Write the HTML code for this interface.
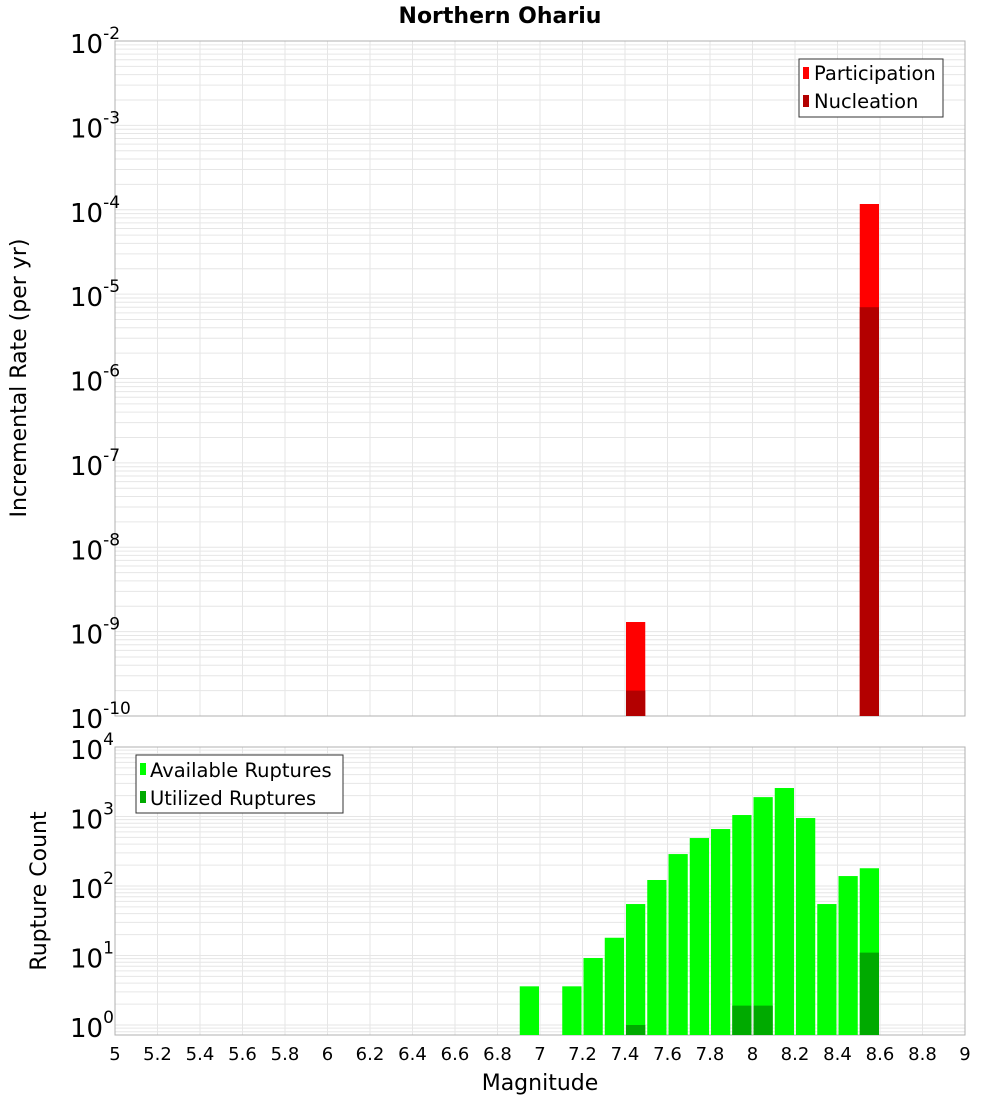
<!DOCTYPE html>
<html><head><meta charset="utf-8"><style>
body{margin:0;background:#fff;font-family:"Liberation Sans","DejaVu Sans",sans-serif}
svg text{font-family:"DejaVu Sans","Liberation Sans",sans-serif}
</style></head><body>
<svg id="c" width="1000" height="1100" xmlns="http://www.w3.org/2000/svg">
<text x="500" y="23" text-anchor="middle" font-size="22" font-weight="bold">Northern Ohariu</text>
<text transform="translate(26,378) rotate(-90)" text-anchor="middle" font-size="22">Incremental Rate (per yr)</text>
<text transform="translate(46,891) rotate(-90)" text-anchor="middle" font-size="22">Rupture Count</text>
<text x="540" y="1090" text-anchor="middle" font-size="22">Magnitude</text>
<g id="gtop"></g><g id="gbot"></g><g id="gxt"></g>
<g>
<rect x="799" y="59" width="144" height="58" fill="#fff" stroke="#333"/>
<rect x="803" y="67" width="6" height="12" fill="#ff0000"/><text x="814" y="80" font-size="19.5">Participation</text>
<rect x="803" y="95" width="6" height="12" fill="#b30000"/><text x="814" y="108" font-size="19.5">Nucleation</text>
</g>
<g>
<rect x="136" y="755" width="207" height="58" fill="#fff" stroke="#333"/>
<rect x="140" y="763" width="6" height="12" fill="#00ff00"/><text x="150" y="777" font-size="19.5">Available Ruptures</text>
<rect x="140" y="791" width="6" height="12" fill="#00aa00"/><text x="150" y="805" font-size="19.5">Utilized Ruptures</text>
</g>
</svg>
<script>
const mags=[6.95,7.05,7.15,7.25,7.35,7.45,7.55,7.65,7.75,7.85,7.95,8.05,8.15,8.25,8.35,8.45,8.55];
const available=[3.6,0,3.6,9.2,18,55,122,288,490,660,1050,1900,2570,950,55,139,180];
const utilized=[0,0,0,0,0,1,0,0,0,0,1.9,1.9,0,0,0,0,11];
const rateMags=[7.45,8.55];
const participation=[1.3e-9,1.17e-4];
const nucleation=[2e-10,7e-6];
const xTicks=[5,5.2,5.4,5.6,5.8,6,6.2,6.4,6.6,6.8,7,7.2,7.4,7.6,7.8,8,8.2,8.4,8.6,8.8,9];
const topExps=[-2,-3,-4,-5,-6,-7,-8,-9,-10];
const botExps=[4,3,2,1,0];
const NS='http://www.w3.org/2000/svg';
const PL=115,PR=965;
const X=m=>PL+(m-5)/4*(PR-PL);
const T0=41,T1=716;const YT=v=>T0+(-2-Math.log10(v))/8*(T1-T0);
const B0=747,B1=1035,BMIN=-0.144;const YB=v=>B0+(4-Math.log10(v))/(4-BMIN)*(B1-B0);
function mk(p,t,a){const e=document.createElementNS(NS,t);for(const k in a)e.setAttribute(k,a[k]);p.appendChild(e);return e;}
function grid(g,y0,y1,yf,lo,hi){
 for(let d=Math.floor(lo);d<hi;d++)for(let k=1;k<10;k++){const v=k*Math.pow(10,d);const y=yf(v);if(y<y0-0.5||y>y1+0.5)continue;
  const l=mk(g,'line',{x1:PL,x2:PR,y1:y,y2:y,stroke:'#e6e6e6','stroke-width':1});
  
  }
 xTicks.forEach(m=>{const l=mk(g,'line',{x1:X(m),x2:X(m),y1:y0,y2:y1,stroke:'#e6e6e6'});
  
  });
 const f=mk(g,'rect',{x:PL,y:y0,width:PR-PL,height:y1-y0,fill:'none',stroke:'#b0b0b0'});
 
 
}
const gTop=document.getElementById('gtop'),gBot=document.getElementById('gbot'),gX=document.getElementById('gxt');
grid(gTop,T0,T1,YT,-10,-2);
grid(gBot,B0,B1,YB,-1,4);
const hw=0.1/2*(PR-PL)/4;
rateMags.forEach((m,i)=>{
 const r=mk(gTop,'rect',{x:X(m)-hw+1,y:YT(participation[i]),width:2*hw-2,height:T1-YT(participation[i]),fill:'#ff0000'});
 
 
 const n=mk(gTop,'rect',{x:X(m)-hw+1,y:YT(nucleation[i]),width:2*hw-2,height:T1-YT(nucleation[i]),fill:'#b30000'});
 
 
});
mags.forEach((m,i)=>{
 if(available[i]>0){const y=Math.min(YB(available[i]),B1);
 const r=mk(gBot,'rect',{x:X(m)-hw+1,y:y,width:2*hw-2,height:B1-y,fill:'#00ff00'});
 
 }
 if(utilized[i]>0){const y=Math.min(YB(utilized[i]),B1-2);
 const u=mk(gBot,'rect',{x:X(m)-hw+1,y:y,width:2*hw-2,height:B1-y,fill:'#00aa00'});
 
 }
});
function ylab(g,e,y){const t=mk(g,'text',{x:70,y:y+12,'font-size':26});
 
 
 t.textContent='10';const s=mk(t,'tspan',{dy:-14,'font-size':17});s.textContent=String(e);}
topExps.forEach(e=>ylab(gTop,e,YT(Math.pow(10,e))));
botExps.forEach(e=>ylab(gBot,e,YB(Math.pow(10,e))));
xTicks.forEach(m=>{const t=mk(gX,'text',{x:X(m),y:1060,'text-anchor':'middle','font-size':18});
 
 
 t.textContent=String(m);});
</script>
</body></html>
